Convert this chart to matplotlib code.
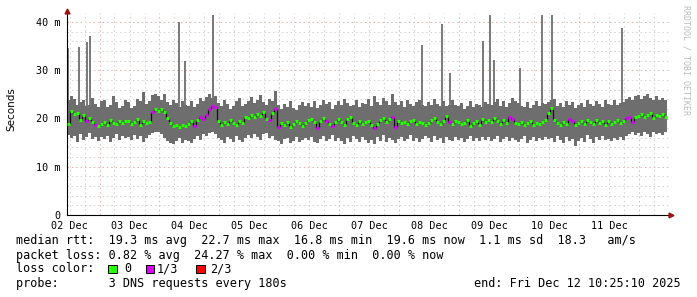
import matplotlib
matplotlib.use('Agg')
import matplotlib.pyplot as plt
import numpy as np
from matplotlib.patches import Rectangle

W, H = 697, 297

day_labels = ['02 Dec', '03 Dec', '04 Dec', '05 Dec', '06 Dec',
              '07 Dec', '08 Dec', '09 Dec', '10 Dec', '11 Dec']
y_ticks = [0, 10, 20, 30, 40]
y_tick_labels = ['0', '10 m', '20 m', '30 m', '40 m']

# smoke range per 72 min bin (ms)
smoke_high = [
    23.8, 24.6, 24.1, 22.7, 23.5, 23.9, 22.6, 22.9, 24.3, 23.1,
    22.4, 23.6, 23.9, 22.3, 22.8, 24.6, 23.5, 22.1, 22.6, 23.8,
    23.4, 22.2, 22.6, 24.1, 23.7, 25.4, 23.0, 23.6, 24.9, 25.1,
    24.6, 23.8, 25.0, 23.4, 22.7, 23.9, 23.2, 22.4, 23.6, 22.8,
    22.6, 23.7, 22.3, 23.1, 24.2, 23.6, 24.5, 25.0, 24.3, 24.7,
    23.2, 22.5, 23.8, 23.0, 21.9, 22.6, 23.7, 24.3, 22.5, 23.0,
    23.6, 24.4, 23.2, 23.8, 24.9, 23.4, 22.8, 24.0, 23.7, 25.8,
    22.9, 22.0, 23.1, 22.4, 23.6, 22.2, 21.7, 22.9, 23.5, 22.6,
    23.3, 22.4, 23.7, 22.1, 22.7, 23.9, 23.0, 23.4, 21.9, 22.8,
    23.6, 22.9, 24.1, 23.3, 22.5, 22.9, 23.9, 22.3, 23.2, 23.0,
    24.0, 22.6, 24.7, 23.5, 22.9, 24.3, 23.6, 22.8, 25.0, 23.4,
    22.7, 23.6, 22.4, 23.8, 23.1, 22.6, 23.5, 23.9, 22.8, 22.5,
    23.4, 22.7, 24.0, 23.1, 22.6, 23.6, 22.5, 22.9, 23.8, 22.7,
    22.5, 23.2, 22.0, 22.6, 23.6, 22.3, 23.1, 22.7, 22.4, 23.4,
    23.1, 22.8, 23.5, 24.0, 22.6, 23.7, 22.4, 23.2, 24.3, 23.6,
    23.2, 22.6, 22.3, 23.5, 22.1, 22.9, 23.7, 22.5, 23.3, 23.1,
    23.4, 23.8, 24.1, 22.6, 23.2, 22.3, 23.6, 22.8, 23.5, 22.2,
    22.8, 23.3, 22.4, 23.8, 23.0, 22.5, 23.6, 23.1, 22.3, 23.9,
    23.0, 22.7, 23.9, 22.9, 23.2, 23.5, 24.0, 24.4, 23.8, 24.6,
    24.9, 24.0, 24.7, 25.1, 24.3, 23.9, 24.6, 23.8, 24.2, 23.9,
]
smoke_low = [
    16.6, 15.9, 16.3, 15.2, 16.8, 15.6, 16.1, 16.9, 15.7, 16.2,
    15.4, 16.1, 15.7, 16.4, 15.1, 15.9, 16.7, 15.6, 16.3, 15.9,
    16.1, 15.5, 16.5, 15.8, 16.3, 15.1, 15.9, 16.6, 17.0, 17.3,
    17.2, 16.7, 16.0, 15.3, 15.0, 14.7, 15.3, 15.9, 14.9, 15.6,
    15.4, 14.9, 15.8, 16.3, 15.6, 16.8, 16.4, 17.0, 17.2, 16.7,
    16.0, 15.5, 14.9, 16.2, 15.8, 15.1, 16.4, 15.6, 15.1, 16.0,
    16.5, 15.9, 16.8, 16.2, 15.6, 16.7, 17.0, 15.9, 16.3, 15.5,
    15.3, 14.8, 15.7, 16.0, 15.0, 15.4, 16.2, 15.1, 15.6, 15.9,
    15.6, 16.1, 15.2, 14.9, 15.8, 16.3, 15.4, 15.7, 16.5, 15.3,
    16.0, 15.4, 14.8, 15.9, 15.2, 16.4, 15.7, 15.1, 16.2, 15.5,
    15.0, 15.6, 14.7, 16.1, 15.4, 16.6, 15.1, 15.9, 15.5, 14.9,
    15.8, 16.2, 15.3, 15.8, 16.5, 15.4, 16.0, 15.1, 15.7, 16.3,
    15.9, 15.2, 16.4, 15.5, 15.9, 15.0, 16.2, 15.6, 15.3, 16.1,
    15.5, 16.0, 15.2, 15.7, 16.3, 15.3, 15.9, 15.4, 16.1, 15.6,
    16.1, 15.3, 15.8, 16.4, 15.2, 15.7, 16.2, 15.4, 15.9, 15.5,
    15.2, 15.8, 16.3, 15.0, 15.6, 16.1, 15.3, 15.9, 15.5, 16.2,
    15.7, 16.0, 15.1, 16.3, 15.5, 14.9, 16.1, 15.3, 15.8, 14.2,
    15.4, 15.9, 15.2, 16.5, 15.7, 15.0, 16.1, 15.6, 16.3, 15.5,
    15.8, 15.3, 16.0, 15.6, 16.2, 15.5, 16.4, 16.8, 17.1, 16.5,
    16.9, 16.3, 17.2, 16.7, 16.1, 17.3, 16.8, 17.0, 16.5, 17.2,
]
median_rtt = [
    18.8, 21.5, 20.9, 21.2, 19.6, 20.8, 19.4, 20.2, 19.3, 18.6,
    18.4, 18.9, 19.3, 18.7, 19.6, 19.1, 18.8, 19.5, 19.0, 19.4,
    19.5, 18.9, 19.2, 19.8, 18.6, 19.4, 19.0, 19.3, 21.4, 21.9,
    21.6, 22.0, 21.3, 20.2, 19.1, 18.4, 18.7, 18.2, 18.6, 18.4,
    18.8, 19.4, 18.5, 19.6, 20.3, 19.8, 20.7, 22.0, 22.5, 22.4,
    19.5, 18.7, 19.2, 18.9, 19.7, 19.0, 18.6, 19.4, 19.1, 20.3,
    20.2, 20.8, 20.4, 21.0, 20.6, 21.3, 20.0, 19.6, 21.1, 22.0,
    18.3, 19.0, 18.6, 19.3, 18.2, 18.8, 19.5, 19.1, 18.4, 19.0,
    19.6, 19.9, 19.2, 18.1, 19.4, 20.2, 19.5, 18.8, 18.5, 19.3,
    20.0, 19.2, 18.7, 19.8, 20.4, 19.1, 18.6, 19.5, 18.9, 19.3,
    19.4, 18.6, 18.0, 18.9, 19.6, 20.1, 19.2, 19.8, 20.3, 18.2,
    19.5, 19.0, 19.2, 18.8, 19.4, 19.7, 18.9, 19.3, 19.1, 18.7,
    19.0, 19.6, 20.2, 19.3, 18.8, 19.5, 20.6, 19.2, 18.9, 19.4,
    19.3, 18.8, 19.1, 19.6, 18.5, 19.0, 19.4, 18.7, 19.8, 19.2,
    19.7, 19.2, 20.1, 19.5, 18.9, 19.6, 19.0, 20.3, 19.8, 19.1,
    18.8, 19.2, 18.6, 19.0, 19.4, 18.7, 19.1, 18.9, 19.3, 19.6,
    21.2, 22.1, 19.6, 19.0, 18.6, 19.3, 18.9, 19.8, 19.5, 18.7,
    19.0, 19.4, 18.8, 19.6, 19.2, 18.9, 19.7, 19.1, 19.5, 18.7,
    19.4, 18.9, 19.2, 19.6, 19.0, 19.5, 20.1, 20.4, 19.3, 20.3,
    20.6, 21.0, 20.3, 20.8, 21.2, 20.1, 20.7, 20.5, 20.9, 20.4,
]
# bins where 1 of 3 requests was lost
loss_1of3_bins = [6, 9, 28, 42, 44, 45, 46, 47, 48, 49, 67, 69, 70, 83, 86, 88,
                  102, 108, 109, 127, 147, 148, 167, 168, 186, 187, 188]

# single outliers (day position, top in ms)
spike_day = [-0.033, 0.163, 0.297, 0.342, 1.830, 1.925, 2.397, 5.870, 6.203,
             6.347, 6.897, 7.008, 7.075, 7.513, 7.870, 8.047, 9.203]
spike_top = [34.6, 34.8, 35.9, 37.0, 40.1, 31.9, 41.5, 35.2, 39.6,
             29.5, 36.1, 41.5, 32.1, 30.4, 41.5, 41.5, 38.7]

loss_colors = ['#26ff00', '#dd00ff', '#ff0000']
loss_names = ['0', '1/3', '2/3']

n = len(median_rtt)
bin_w = 0.05  # days
t = np.arange(n) * bin_w - 1 / 60
loss = np.zeros(n, dtype=int)
loss[loss_1of3_bins] = 1
low = np.array(smoke_low)
high = np.array(smoke_high)
med = np.array(median_rtt)

fig = plt.figure(figsize=(W / 100, H / 100), dpi=100)
fig.patch.set_facecolor('white')
ax = fig.add_axes([67 / W, 1 - 215 / H, (669 - 67) / W, (215 - 13) / H])
ax.set_xlim(-2.5 / 60, 599.5 / 60)
ax.set_ylim(0, 202 / 4.825)

# grid (rrdtool style, dotted)
dots = (0, (1.4, 2.8))
for y in np.arange(2, 42, 2):
    c = '#e4b0b0' if y % 10 == 0 else '#d2d2d2'
    ax.axhline(y, color=c, lw=0.75, ls=dots, zorder=1)
for d in np.arange(0, 10, 0.25):
    c = '#e4b0b0' if abs(d % 1 - 0.5) < 1e-6 else '#d2d2d2'
    ax.axvline(d, color=c, lw=0.75, ls=dots, zorder=1)

# smoke
ax.bar(t, high - low, bottom=low, width=bin_w, color='#6e6e6e', linewidth=0, zorder=2)
ax.vlines(spike_day, 20, spike_top, color='#6e6e6e', lw=1.3, zorder=2)

# median, coloured by loss
edges = t[1:] - bin_w / 2
ax.vlines(edges, med[:-1], med[1:], color='#111111', lw=0.9, zorder=4)
cols = [loss_colors[k] for k in loss]
ax.hlines(med, t - bin_w / 2, t + bin_w / 2, colors=cols, lw=2.2, zorder=5)

for s in ['top', 'right']:
    ax.spines[s].set_visible(False)
ax.spines['left'].set_linewidth(0.8)
ax.spines['bottom'].set_linewidth(0.8)
ax.plot(1.004, 0, '>', transform=ax.transAxes, clip_on=False, color='#a01010', ms=3.5, zorder=6)
ax.plot(0, 1.01, '^', transform=ax.transAxes, clip_on=False, color='#a01010', ms=3.5, zorder=6)

mono = 'DejaVu Sans Mono'
ax.set_yticks(y_ticks)
ax.set_yticklabels(y_tick_labels, family=mono, fontsize=7.3)
ax.set_xticks(np.arange(len(day_labels)))
ax.set_xticklabels(day_labels, family=mono, fontsize=7.3)
ax.tick_params(axis='y', length=0, pad=5)
ax.tick_params(axis='x', length=0, pad=4)

fig.text(11 / W, 1 - 109 / H, 'Seconds', rotation=90, ha='center', va='center',
         fontsize=7.5, family='DejaVu Sans')
fig.text(686 / W, 1 - 60 / H, 'RRDTOOL / TOBI OETIKER', rotation=270, ha='center',
         va='center', fontsize=6, family=mono, color='#bdbdbd')

fs = 8.5
lines = [
    (240.5, 'median rtt:  19.3 ms avg  22.7 ms max  16.8 ms min  19.6 ms now  1.1 ms sd  18.3   am/s'),
    (255, 'packet loss: 0.82 % avg  24.27 % max  0.00 % min  0.00 % now'),
    (269, 'loss color:'),
    (283.5, 'probe:       3 DNS requests every 180s'),
]
for y, s in lines:
    fig.text(16 / W, 1 - y / H, s, ha='left', va='center', family=mono, fontsize=fs)
fig.text(681 / W, 1 - 283.5 / H, 'end: Fri Dec 12 10:25:10 2025', ha='right', va='center',
         family=mono, fontsize=fs)

box_x = [108, 145.5, 196]
lab_x = [124, 157, 210]
for bx, lx, c, name in zip(box_x, lab_x, loss_colors, loss_names):
    fig.patches.append(Rectangle((bx / W, 1 - 273 / H), 8.5 / W, 8.5 / H, transform=fig.transFigure,
                                 facecolor=c, edgecolor='black', lw=0.7))
    fig.text(lx / W, 1 - 269 / H, name, ha='left', va='center', family=mono, fontsize=fs)

fig.savefig('out.png', dpi=100, facecolor='white')
